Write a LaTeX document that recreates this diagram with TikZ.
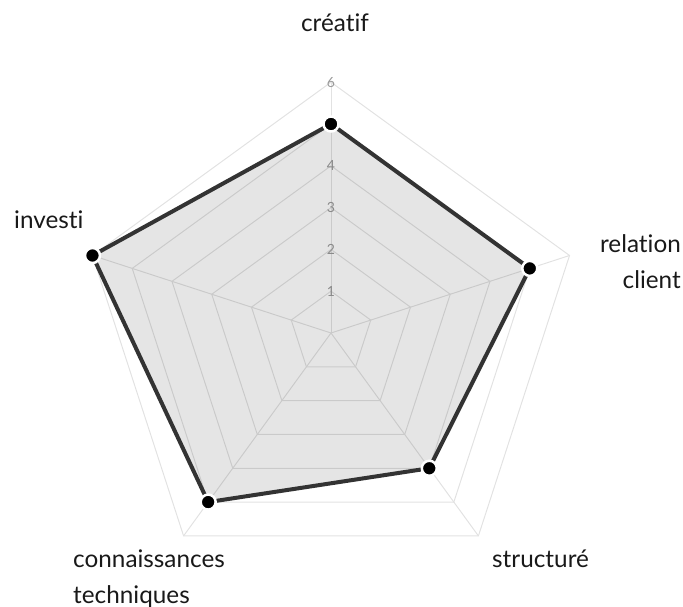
\documentclass[tikz,border=0pt]{standalone}
\usepackage{fontspec}
\setmainfont{Lato}[Ligatures={NoCommon,NoRare,NoDiscretionary}]
\definecolor{gridc}{HTML}{E2E2E2}
\definecolor{linec}{HTML}{333333}
\definecolor{tickc}{HTML}{9A9A9A}
\begin{document}
\begin{tikzpicture}[x=1pt,y=-1pt,
  grid/.style={draw=gridc,line width=1pt},
  serie/.style={draw=linec,fill=black,fill opacity=0.1,draw opacity=1,line width=4pt,line join=round},
  dot/.style={circle,fill=black,draw=white,line width=2.5pt,minimum size=15pt,inner sep=0pt},
  tick/.style={text=tickc,font=\fontsize{14}{14}\selectfont,inner sep=0pt},
  lab/.style={font=\fontsize{24.3}{24.3}\selectfont,inner sep=0pt,text=black!90}]
\useasboundingbox (0,0) rectangle (683,607);
\def\u{41.8}
\begin{scope}[shift={(331,333)}]
  \foreach \k in {1,...,6}{
    \draw[grid] (-90:\k*\u) -- (-18:\k*\u) -- (54:\k*\u) -- (126:\k*\u) -- (198:\k*\u) -- cycle;
  }
  \foreach \a in {-90,-18,54,126,198}{
    \draw[grid] (0,0) -- (\a:6*\u);
  }
  \coordinate (c1) at (-90:5*\u);
  \coordinate (c2) at (-18:5*\u);
  \coordinate (c3) at (54:4*\u);
  \coordinate (c4) at (126:5*\u);
  \coordinate (c5) at (198:6*\u);
  \foreach \k in {1,2,3,4,6}{
    \node[tick] (t\k) at (-90:\k*\u) {\k};
  }
  \draw[serie] (c1) -- (c2) -- (c3) -- (c4) -- (c5) -- cycle;
  \node[dot] (p1) at (c1) {};
  \node[dot] (p2) at (c2) {};
  \node[dot] (p3) at (c3) {};
  \node[dot] (p4) at (c4) {};
  \node[dot] (p5) at (c5) {};
\end{scope}
\node[lab,anchor=base] (l1) at (335,32) {créatif};
\node[lab,anchor=base east] (l2a) at (681,252) {relation};
\node[lab,anchor=base east] (l2b) at (681,288) {client};
\node[lab,anchor=base west] (l3) at (492,567) {structuré};
\node[lab,anchor=base west] (l4a) at (73,567) {connaissances};
\node[lab,anchor=base west] (l4b) at (73,603) {techniques};
\node[lab,anchor=base west] (l5) at (14,229) {investi};
\end{tikzpicture}
\end{document}
